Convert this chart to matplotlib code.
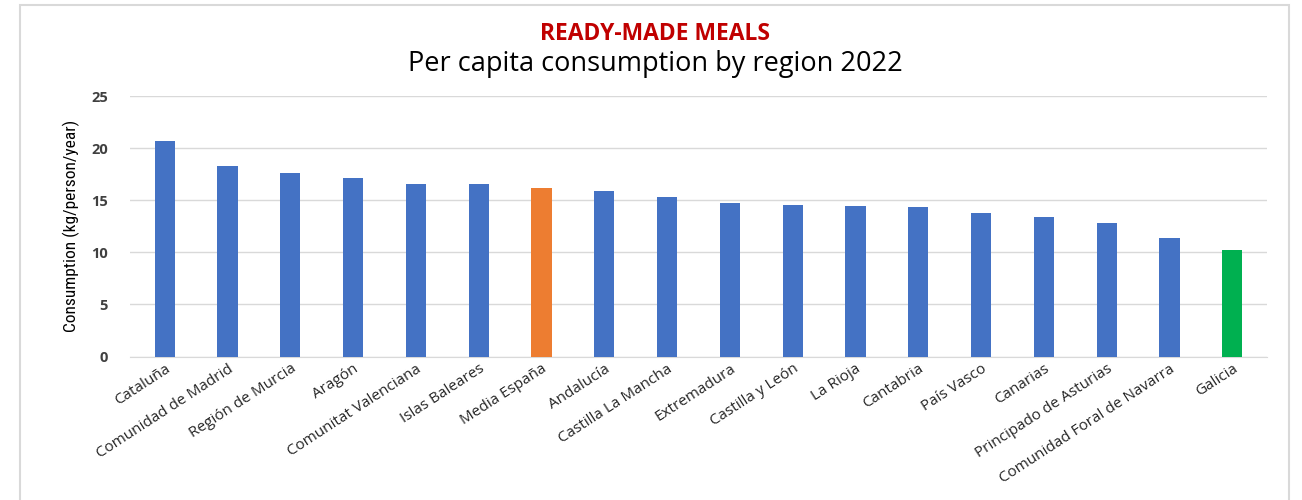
import matplotlib.pyplot as plt
from matplotlib.patches import Rectangle

regions = ['Cataluña', 'Comunidad de Madrid', 'Región de Murcia', 'Aragón',
           'Comunitat Valenciana', 'Islas Baleares', 'Media España', 'Andalucía',
           'Castilla La Mancha', 'Extremadura', 'Castilla y León', 'La Rioja',
           'Cantabria', 'País Vasco', 'Canarias', 'Principado de Asturias',
           'Comunidad Foral de Navarra', 'Galicia']
consumption = [20.7, 18.3, 17.6, 17.1, 16.6, 16.6, 16.2, 15.9, 15.3, 14.7,
               14.5, 14.4, 14.35, 13.8, 13.4, 12.8, 11.4, 10.25]

colors = ['#4472C4'] * len(regions)
colors[regions.index('Media España')] = '#ED7D31'
colors[regions.index('Galicia')] = '#00B050'

plt.rcParams['font.family'] = ['Open Sans', 'DejaVu Sans']

fig = plt.figure(figsize=(13.02, 5.0), dpi=100)
fig.patches.append(Rectangle((0.015, -0.01), 0.975, 1.0, transform=fig.transFigure,
                             fill=False, edgecolor='#d9d9d9', linewidth=1.5))
ax = fig.add_axes([0.1, 0.287, 0.873, 0.521])

x = range(len(regions))
ax.bar(x, consumption, width=0.32, color=colors, zorder=3)

ax.set_xlim(-0.55, len(regions) - 0.45)
ax.set_ylim(0, 25)
ax.set_yticks([0, 5, 10, 15, 20, 25])
ax.yaxis.grid(True, color='#d9d9d9', linewidth=1, zorder=0)
for s in ['top', 'right', 'left']:
    ax.spines[s].set_visible(False)
ax.spines['bottom'].set_color('#d9d9d9')
ax.tick_params(axis='both', length=0, colors='#404040')
ax.tick_params(axis='y', pad=16, labelsize=10.5)
for lbl in ax.get_yticklabels():
    lbl.set_fontweight('bold')
ax.set_xticks(list(x))
ax.set_xticklabels(regions, rotation=33, ha='right', rotation_mode='anchor',
                   fontsize=11, color='#262626')
ax.set_ylabel('Consumption (kg/person/year)', fontsize=12.5, color='#000000',
              labelpad=8,
              family=['Roboto Condensed', 'Liberation Sans Narrow', 'Roboto', 'DejaVu Sans'])

fig.text(0.503, 0.932, 'READY-MADE MEALS', ha='center', va='center',
         fontsize=16.5, fontweight='bold', color='#C00000')
fig.text(0.503, 0.873, 'Per capita consumption by region 2022', ha='center',
         va='center', fontsize=19.5, color='#000000')

fig.savefig('out.png', dpi=100)
